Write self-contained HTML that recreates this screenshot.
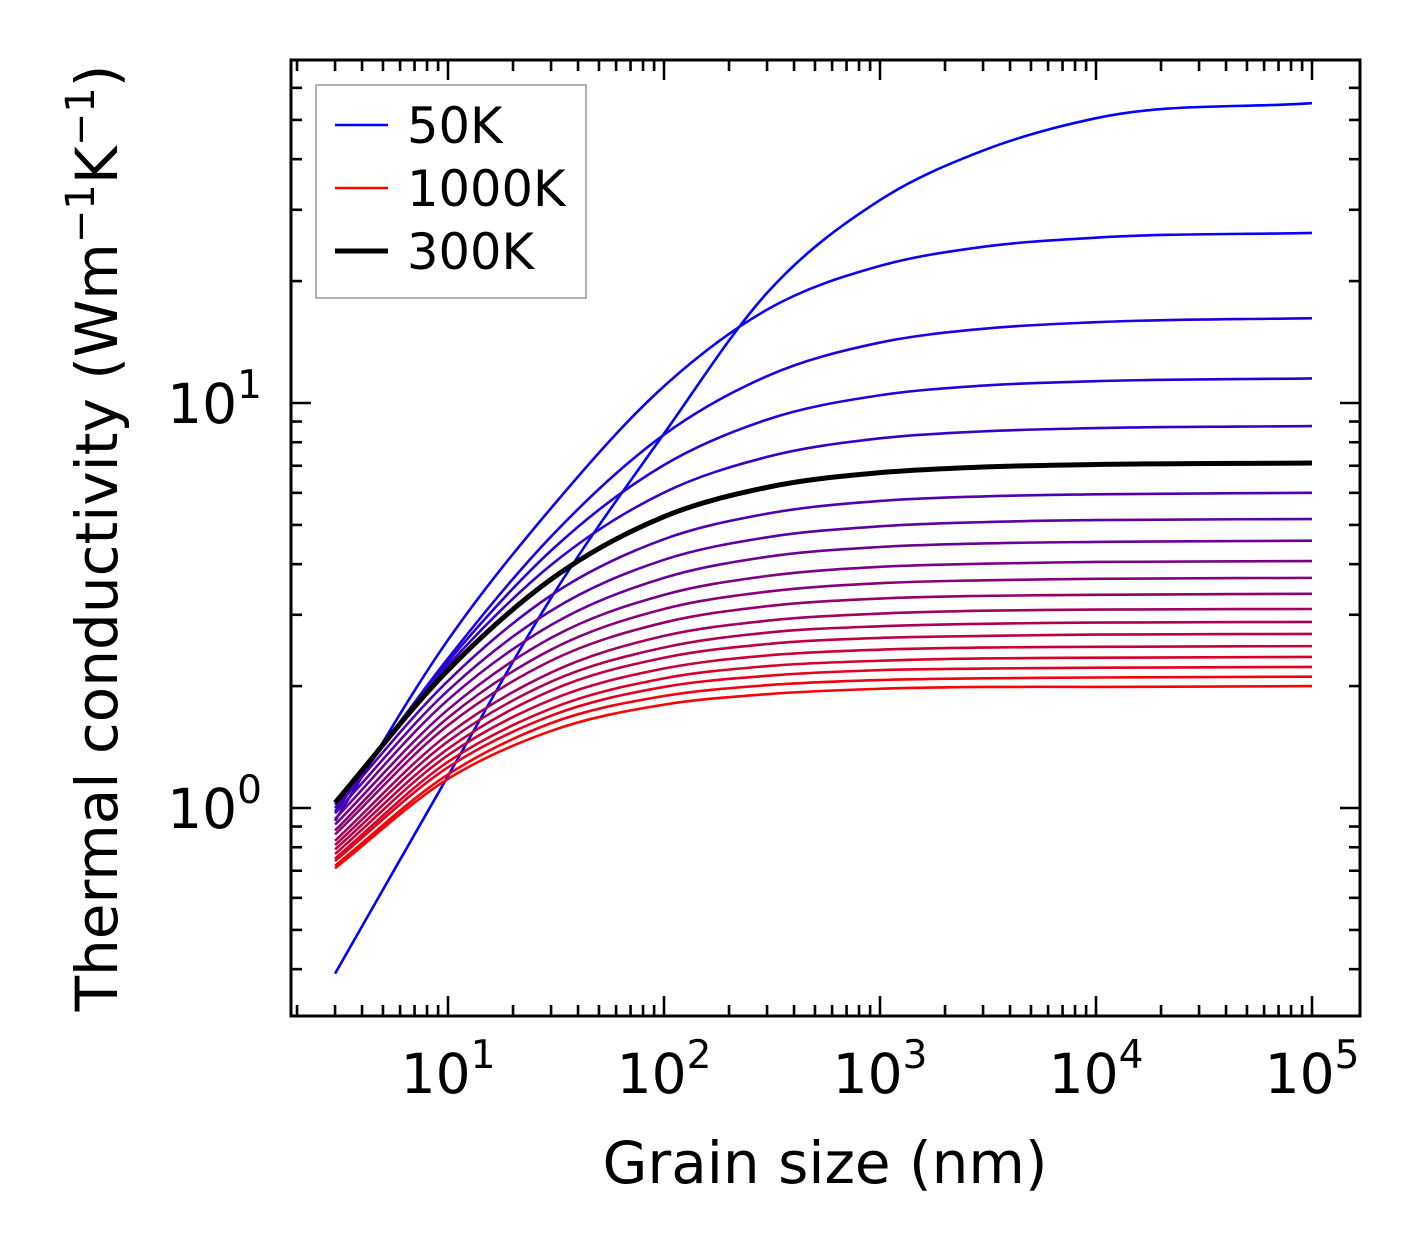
<!DOCTYPE html>
<html><head><meta charset="utf-8"><style>
html,body{margin:0;padding:0;background:#fff;}
svg{display:block;font-family:"DejaVu Sans","Liberation Sans",sans-serif;}
</style></head><body>
<svg id="chart" width="1421" height="1254" viewBox="0 0 1421 1254" xmlns="http://www.w3.org/2000/svg">
<g id="curves"></g>
<g id="ticks"></g>
<rect x="291" y="60" width="1069" height="956" fill="none" stroke="#000" stroke-width="3"/>
<g id="labels"></g>
<text x="825" y="1183" font-size="58" text-anchor="middle">Grain size (nm)</text>
<text transform="translate(117,538) rotate(-90)" font-size="58" text-anchor="middle">Thermal conductivity (Wm<tspan font-size="40" dy="-23">−1</tspan><tspan dy="23">K</tspan><tspan font-size="40" dy="-23">−1</tspan><tspan dy="23">)</tspan></text>
<g>
<rect x="316" y="85" width="270" height="213" fill="#fff" stroke="#999" stroke-width="1.5"/>
<line x1="335" y1="125" x2="388" y2="125" stroke="#0000ff" stroke-width="2.5"/>
<text x="407" y="143" font-size="49.5">50K</text>
<line x1="335" y1="188" x2="388" y2="188" stroke="#ff0000" stroke-width="2.5"/>
<text x="407" y="206" font-size="49.5">1000K</text>
<line x1="335" y1="251" x2="388" y2="251" stroke="#000" stroke-width="5"/>
<text x="407" y="269" font-size="49.5">300K</text>
</g>
</svg>
<script>
const grainSizes = [3, 10, 30, 100, 300, 1000, 3000, 10000, 100000];
const temperatures = [50,100,150,200,250,300,350,400,450,500,550,600,650,700,750,800,850,900,950,1000];
const k50 = [0.39,1.2,3.3,8.4,18.7,31.7,42,50.5,55];
const k100 = [0.93,2.6,5.5,11,17,21.8,24.3,25.6,26.3];
const k150 = [0.98,2.34,4.68,8.35,11.65,14.1,15.25,15.83,16.2];
const k200 = [1.0,2.30,4.32,7.03,9.10,10.45,11.04,11.32,11.5];
const k250 = [1.02,2.25,3.98,6.01,7.36,8.18,8.51,8.67,8.77];
const k300 = [1.03,2.19,3.67,5.24,6.19,6.73,6.95,7.05,7.11];
const k350 = [1.0,2.06,3.35,4.61,5.33,5.73,5.88,5.95,6.0];
const k400 = [0.97,1.95,3.07,4.10,4.66,4.96,5.08,5.14,5.17];
const k450 = [0.94,1.85,2.83,3.70,4.17,4.41,4.50,4.54,4.57];
const k500 = [0.91,1.75,2.63,3.36,3.74,3.94,4.01,4.05,4.07];
const k550 = [0.88,1.67,2.46,3.10,3.42,3.59,3.65,3.68,3.70];
const k600 = [0.86,1.60,2.31,2.87,3.15,3.29,3.34,3.36,3.38];
const k650 = [0.83,1.52,2.16,2.66,2.90,3.02,3.07,3.09,3.10];
const k700 = [0.81,1.46,2.05,2.49,2.71,2.81,2.85,2.87,2.88];
const k750 = [0.79,1.40,1.95,2.35,2.54,2.63,2.66,2.68,2.69];
const k800 = [0.77,1.35,1.85,2.21,2.38,2.46,2.49,2.50,2.51];
const k850 = [0.75,1.30,1.76,2.09,2.24,2.31,2.34,2.35,2.36];
const k900 = [0.74,1.26,1.69,1.99,2.12,2.19,2.21,2.22,2.23];
const k950 = [0.72,1.21,1.62,1.89,2.01,2.07,2.09,2.10,2.11];
const k1000 = [0.71,1.18,1.55,1.80,1.91,1.97,1.99,1.99,2.00];
const series = [k50,k100,k150,k200,k250,k300,k350,k400,k450,k500,k550,k600,k650,k700,k750,k800,k850,k900,k950,k1000];
const xTickExps = [1,2,3,4,5];
const yTickExps = [0,1];

const NS = "http://www.w3.org/2000/svg";
const X0 = 291, X1 = 1360, Y0 = 60, Y1 = 1016;
const xLogMin = 1 - (448 - X0) / 216, xLogMax = xLogMin + (X1 - X0) / 216;
const yLogMax = 1 + (403 - Y0) / 405, yLogMin = yLogMax - (Y1 - Y0) / 405;
function xs(v){ return X0 + (Math.log10(v) - xLogMin) / (xLogMax - xLogMin) * (X1 - X0); }
function ys(v){ return Y1 - (Math.log10(v) - yLogMin) / (yLogMax - yLogMin) * (Y1 - Y0); }
function mk(tag, attrs){ const e = document.createElementNS(NS, tag); for (const k in attrs) e.setAttribute(k, attrs[k]); return e; }

function pathFor(vals){
  const p = grainSizes.map((g,i)=>[xs(g), ys(vals[i])]);
  const N = p.length;
  const sec = [];
  for (let i=0;i<N-1;i++) sec.push((p[i+1][1]-p[i][1])/(p[i+1][0]-p[i][0]));
  const m = p.map((_,i)=>{
    if (i===0) return sec[0];
    if (i===N-1) return sec[N-2];
    const h0 = p[i][0]-p[i-1][0], h1 = p[i+1][0]-p[i][0];
    return (sec[i-1]*h1 + sec[i]*h0)/(h0+h1);
  });
  let d = "M" + p[0][0].toFixed(2) + "," + p[0][1].toFixed(2);
  for (let i=0;i<N-1;i++){
    const b = p[i], c = p[i+1], h = c[0]-b[0];
    const c1 = [b[0]+h/3, b[1]+m[i]*h/3];
    const c2 = [c[0]-h/3, c[1]-m[i+1]*h/3];
    d += " C" + c1.map(n=>n.toFixed(2)).join(",") + " " + c2.map(n=>n.toFixed(2)).join(",") + " " + c.map(n=>n.toFixed(2)).join(",");
  }
  return d;
}

const cg = document.getElementById("curves");
const n = series.length;
let blackPath = null;
series.forEach((vals, i) => {
  const t = temperatures[i];
  const f = i / (n - 1);
  const isRef = t === 300;
  const col = isRef ? "#000" : "rgb(" + Math.round(255*f) + ",0," + Math.round(255*(1-f)) + ")";
  const path = mk("path", {d: pathFor(vals), fill: "none", stroke: col, "stroke-width": isRef ? 5 : 2.6});
  
  
  if (isRef) blackPath = path; else cg.appendChild(path);
});
if (blackPath) cg.appendChild(blackPath);

const tg = document.getElementById("ticks");
function tick(x1,y1,x2,y2,name){
  const l = mk("line", {x1,y1,x2,y2, stroke:"#000", "stroke-width":2.6});
  
  
  tg.appendChild(l);
}
for (let e=0; e<=5; e++){
  for (let mm=1; mm<=9; mm++){
    const v = mm*Math.pow(10,e), x = xs(v);
    if (x < X0+1 || x > X1-1) continue;
    const L = mm===1 ? 20 : 11;
    tick(x, Y1, x, Y1-L, 'x-tick');
    tick(x, Y0, x, Y0+L, 'x-tick-top');
  }
}
for (let e=-1; e<=1; e++){
  for (let mm=1; mm<=9; mm++){
    const v = mm*Math.pow(10,e), y = ys(v);
    if (y < Y0+1 || y > Y1-1) continue;
    const L = mm===1 ? 20 : 11;
    tick(X0, y, X0+L, y, 'y-tick');
    tick(X1, y, X1-L, y, 'y-tick-right');
  }
}
const lg = document.getElementById("labels");
xTickExps.forEach(e => {
  const t = mk("text", {x: xs(Math.pow(10,e)), y: 1093, "font-size": 55, "text-anchor": "middle"});
  
  
  t.innerHTML = '10<tspan font-size="39" dy="-25">' + e + '</tspan>';
  lg.appendChild(t);
});
yTickExps.forEach(e => {
  const t = mk("text", {x: 262, y: ys(Math.pow(10,e)) + 20, "font-size": 55, "text-anchor": "end"});
  
  
  t.innerHTML = '10<tspan font-size="39" dy="-25">' + e + '</tspan>';
  lg.appendChild(t);
});
</script>
</body></html>
